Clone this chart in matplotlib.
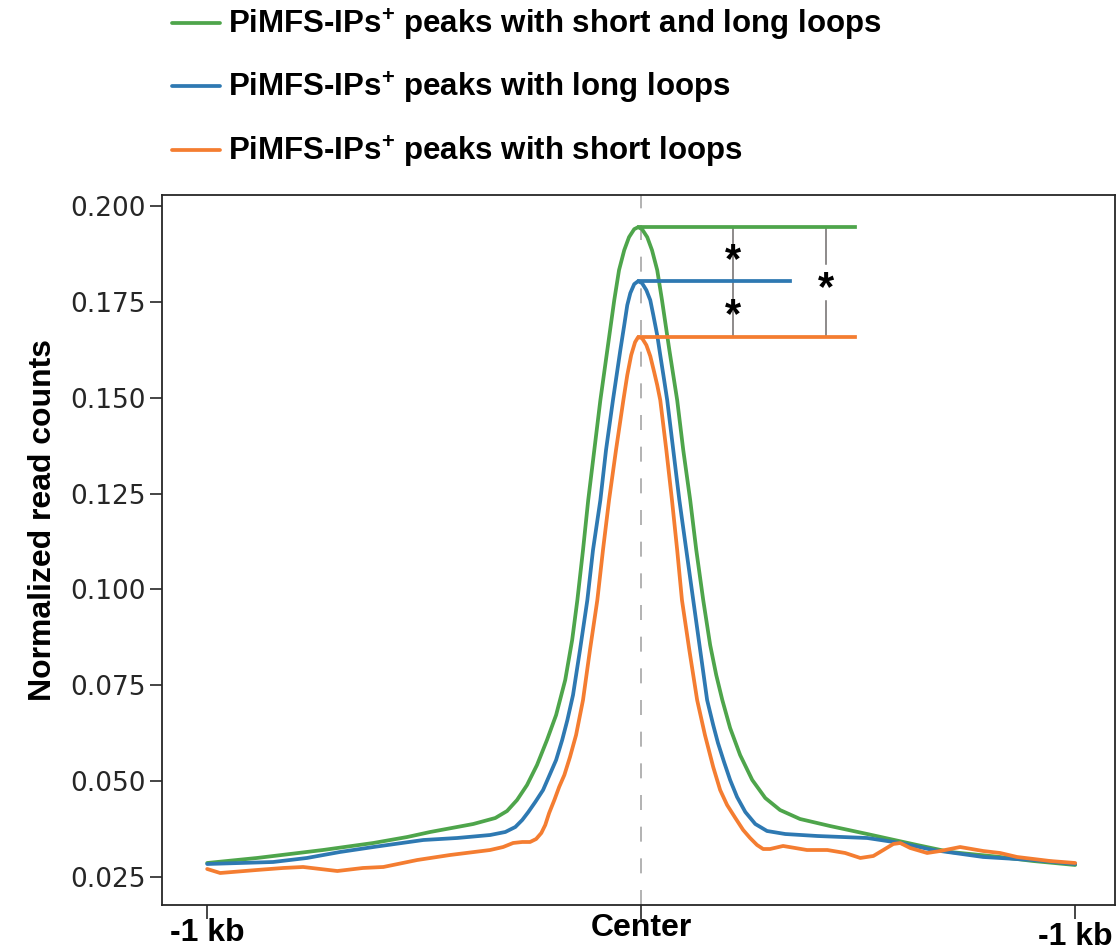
import numpy as np
import matplotlib
matplotlib.use("Agg")
import matplotlib.pyplot as plt

# profile around PiMFS-IP peak centers (bp from center, normalized counts)
pos_both = [-1000, -885, -733, -617, -539, -486, -387, -336, -309, -286,
            -263, -240, -217, -196, -175, -159, -147, -134, -122, -108,
            -94, -78, -62, -51, -39, -28, -16, -7, 2, 14,
            25, 37, 48, 65, 83, 97, 113, 127, 143, 159,
            173, 187, 205, 228, 256, 286, 320, 366, 435, 521,
            636, 712, 827, 903, 1000]
cnt_both = [0.02865, 0.02996, 0.03204, 0.03387, 0.03543, 0.03674, 0.03882, 0.04039, 0.04221, 0.04508,
            0.04899, 0.05421, 0.06073, 0.06725, 0.07638, 0.08681, 0.09724, 0.11028, 0.12332, 0.13636,
            0.14940, 0.16244, 0.17548, 0.18331, 0.18852, 0.19191, 0.19400, 0.19452, 0.19400, 0.19191,
            0.18852, 0.18331, 0.17548, 0.16244, 0.14940, 0.13636, 0.12332, 0.11028, 0.09724, 0.08551,
            0.07768, 0.07116, 0.06386, 0.05682, 0.05030, 0.04560, 0.04247, 0.04013, 0.03830, 0.03621,
            0.03334, 0.03152, 0.03022, 0.02917, 0.02813]

pos_long = [-1000, -848, -770, -694, -617, -502, -424, -348, -313, -290,
            -274, -260, -244, -226, -210, -196, -182, -170, -157, -141,
            -124, -111, -94, -81, -65, -48, -39, -32, -25, -16,
            -7, 2, 12, 21, 28, 37, 44, 53, 60, 74,
            88, 104, 120, 136, 152, 166, 177, 191, 205, 221,
            240, 263, 290, 332, 406, 521, 597, 673, 788, 903,
            1000]
cnt_long = [0.02839, 0.02891, 0.02996, 0.03152, 0.03282, 0.03465, 0.03517, 0.03595, 0.03674, 0.03804,
            0.03987, 0.04195, 0.04456, 0.04769, 0.05186, 0.05551, 0.06073, 0.06595, 0.07247, 0.08420,
            0.09724, 0.11028, 0.12332, 0.13636, 0.14940, 0.16244, 0.16896, 0.17418, 0.17731, 0.17966,
            0.18043, 0.17992, 0.17809, 0.17548, 0.17157, 0.16635, 0.16114, 0.15462, 0.14940, 0.13636,
            0.12332, 0.11028, 0.09724, 0.08420, 0.07116, 0.06464, 0.05995, 0.05499, 0.05030, 0.04586,
            0.04195, 0.03882, 0.03700, 0.03621, 0.03569, 0.03517, 0.03387, 0.03204, 0.03022, 0.02943,
            0.02839]

pos_short = [-1000, -970, -885, -825, -779, -700, -641, -594, -516, -440,
             -348, -318, -295, -274, -256, -242, -230, -221, -212, -200,
             -189, -177, -164, -150, -134, -118, -101, -88, -74, -58,
             -41, -32, -23, -14, -7, 2, 12, 21, 30, 37,
             44, 58, 71, 83, 94, 111, 129, 147, 166, 182,
             198, 217, 235, 251, 267, 281, 297, 327, 355, 382,
             429, 470, 505, 535, 558, 581, 597, 620, 659, 689,
             735, 788, 827, 866, 942, 1000]
cnt_short = [0.02709, 0.02604, 0.02683, 0.02735, 0.02761, 0.02656, 0.02735, 0.02761, 0.02943, 0.03074,
             0.03204, 0.03282, 0.03387, 0.03413, 0.03413, 0.03491, 0.03648, 0.03856, 0.04169, 0.04508,
             0.04847, 0.05160, 0.05630, 0.06203, 0.07116, 0.08420, 0.09724, 0.11028, 0.12332, 0.13636,
             0.14940, 0.15592, 0.16114, 0.16453, 0.16583, 0.16557, 0.16375, 0.16088, 0.15670, 0.15332,
             0.14940, 0.13636, 0.12332, 0.11028, 0.09724, 0.08420, 0.07116, 0.06203, 0.05369, 0.04769,
             0.04378, 0.04039, 0.03726, 0.03517, 0.03335, 0.03230, 0.03230, 0.03309, 0.03256, 0.03204,
             0.03204, 0.03126, 0.02996, 0.03048, 0.03204, 0.03361, 0.03387, 0.03256, 0.03126, 0.03178,
             0.03282, 0.03178, 0.03126, 0.03022, 0.02917, 0.02865]

labels = ["PiMFS-IPs$^{+}$ peaks with short and long loops",
          "PiMFS-IPs$^{+}$ peaks with long loops",
          "PiMFS-IPs$^{+}$ peaks with short loops"]
colors = ["#4ea54b", "#2e79b2", "#f47d31"]

xtick_pos = [-1000, 0, 1000]
xtick_lab = ["-1 kb", "Center", "-1 kb"]
ytick_pos = [0.025, 0.050, 0.075, 0.100, 0.125, 0.150, 0.175, 0.200]

# significance brackets
peak_line_end = [493, 343, 493]
bracket_x = [212, 426]

plt.rcParams["font.family"] = "DejaVu Sans"
plt.rcParams["mathtext.fontset"] = "custom"
plt.rcParams["mathtext.rm"] = "Liberation Sans:bold"
plt.rcParams["mathtext.bf"] = "Liberation Sans:bold"

bold = dict(family="Liberation Sans", weight="bold")

fig = plt.figure(figsize=(11.19, 9.5), dpi=100)
ax = fig.add_axes([0.1448, 0.0474, 0.8517, 0.7473])

series = [(pos_both, cnt_both), (pos_long, cnt_long), (pos_short, cnt_short)]
handles = []
for (px, cy), col, lab in zip(series, colors, labels):
    h, = ax.plot(px, cy, color=col, lw=2.7, label=lab,
                 solid_joinstyle="round", solid_capstyle="round", zorder=3)
    handles.append(h)

ax.axvline(0, color="#a6a6a6", lw=1.2, ls=(0, (9, 10)), zorder=1)

# horizontal lines at the peak heights
peaks = [max(c) for c in (cnt_both, cnt_long, cnt_short)]
for pk, end, col in zip(peaks, peak_line_end, colors):
    ax.plot([-5, end], [pk, pk], color=col, lw=2.7, zorder=3)

bc = "#6f6b6b"
ax.plot([bracket_x[0], bracket_x[0]], [peaks[0], peaks[2]], color=bc, lw=1.1, zorder=2)
mid_a = (peaks[0] + peaks[1]) / 2
mid_b = (peaks[1] + peaks[2]) / 2
mid_c = (peaks[0] + peaks[2]) / 2
gap = 0.0048
ax.plot([bracket_x[1], bracket_x[1]], [peaks[0], mid_c + gap], color=bc, lw=1.1, zorder=2)
ax.plot([bracket_x[1], bracket_x[1]], [mid_c - gap, peaks[2]], color=bc, lw=1.1, zorder=2)
for xx, yy in [(bracket_x[0], mid_a), (bracket_x[0], mid_b), (bracket_x[1], mid_c)]:
    ax.text(xx, yy - 0.0019, "*", ha="center", va="center", fontsize=30, zorder=4, **bold)

ax.set_xlim(-1104, 1092)
ax.set_ylim(0.0177, 0.2029)
ax.set_yticks(ytick_pos)
ax.set_yticklabels(["%.3f" % v for v in ytick_pos])
ax.set_xticks(xtick_pos)
ax.set_xticklabels(xtick_lab, fontsize=23, **bold)
ax.tick_params(axis="y", labelsize=19, labelcolor="#262626", length=9, width=1.2, color="#262626", pad=2.5)
ax.tick_params(axis="x", length=10, width=1.2, color="#262626", pad=-4)
xl = ax.get_xticklabels()
xl[0].set_y(-0.007)
xl[2].set_y(-0.012)
for s in ax.spines.values():
    s.set_linewidth(1.3)
    s.set_color("#262626")

ax.set_ylabel("Normalized read counts", fontsize=23, labelpad=9, **bold)
ax.yaxis.label.set_y(0.542)

fig.legend(handles, labels, loc="upper left", bbox_to_anchor=(0.1537, 0.993),
           frameon=False, prop=dict(size=22.5, **bold), handlelength=1.55,
           handletextpad=0.25, labelspacing=0.87, borderpad=0, borderaxespad=0)

fig.savefig("out.png", dpi=100)
